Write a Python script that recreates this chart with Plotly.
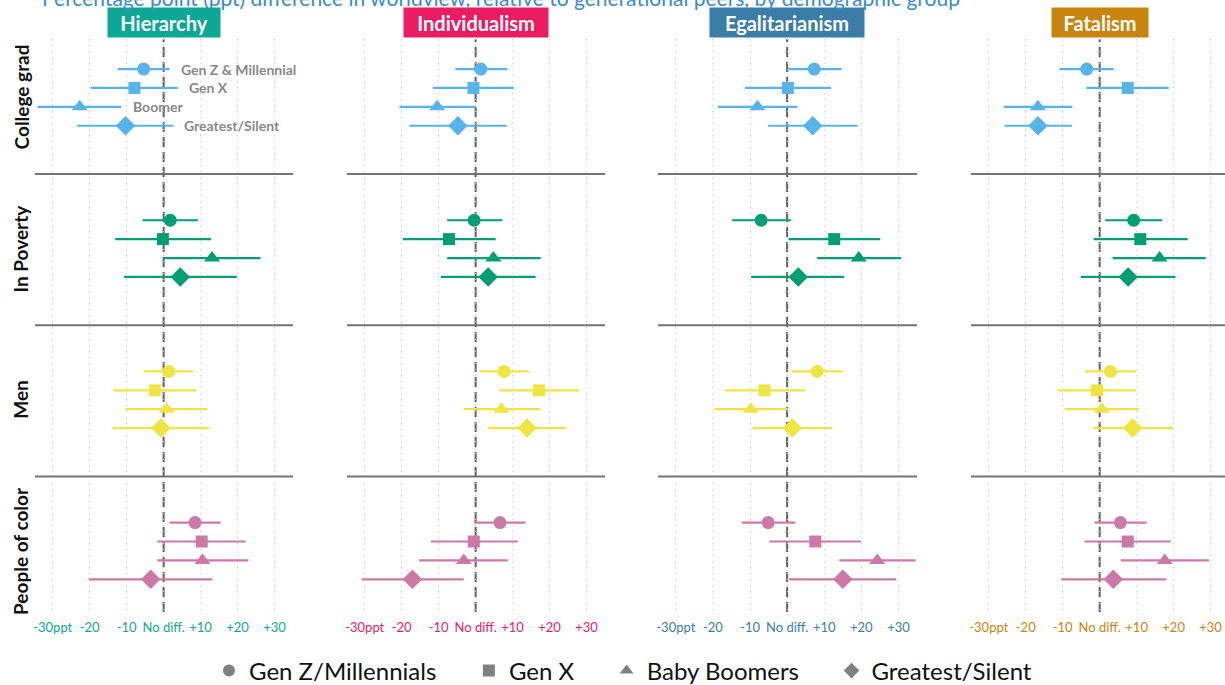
import plotly.graph_objects as go

cultures = ["Hierarchy", "Individualism", "Egalitarianism", "Fatalism"]
culture_colors = ["#0DA795", "#EC1C63", "#3A7DA6", "#C8850E"]
groups = ["College grad", "In Poverty", "Men", "People of color"]
group_colors = ["#56B4E9", "#009E73", "#F0E442", "#CC79A7"]
generations = ["Gen Z/Millennials", "Gen X", "Baby Boomers", "Greatest/Silent"]
gen_labels = ["Gen Z & Millennial", "Gen X", "Boomer", "Greatest/Silent"]
gen_label_x = [4.1, 6.2, -8.9, 4.9]
gen_symbols = ["circle", "square", "triangle-up", "diamond"]
gen_sizes = [13, 12, 14, 15]
tick_vals = [-30, -20, -10, 0, 10, 20, 30]
tick_text = ["-30ppt", "-20", "-10", "No diff.", "+10", "+20", "+30"]

# rows = demographic groups, columns = generations
hierarchy_est = [[-5.4, -7.9, -22.7, -10.3], [1.8, -0.2, 13.1, 4.5], [1.4, -2.4, 0.8, -0.7], [8.5, 10.3, 10.5, -3.5]]
hierarchy_lo = [[-12.4, -19.7, -34.1, -23.4], [-5.7, -13.1, 0.0, -10.7], [-5.4, -13.5, -10.2, -13.8], [1.6, -1.7, -1.7, -20.3]]
hierarchy_hi = [[1.6, 3.8, -11.5, 2.7], [9.3, 12.8, 26.2, 19.8], [8.0, 8.9, 11.8, 12.3], [15.4, 22.2, 22.9, 13.2]]

individualism_est = [[1.4, -0.6, -10.4, -4.8], [-0.4, -7.2, 4.8, 3.4], [7.7, 17.1, 7.0, 13.9], [6.6, -0.5, -3.2, -17.1]]
individualism_lo = [[-5.5, -11.6, -20.6, -17.9], [-7.7, -19.7, -7.7, -9.4], [1.0, 6.4, -3.2, 3.4], [-0.4, -12.1, -15.3, -30.8]]
individualism_hi = [[8.6, 10.3, 0.0, 8.4], [7.2, 5.4, 17.6, 16.2], [14.4, 28.0, 17.5, 24.4], [13.5, 11.4, 8.7, -3.2]]

egalitarianism_est = [[7.3, 0.2, -8.0, 6.9], [-7.0, 12.7, 19.3, 3.0], [8.1, -6.1, -9.8, 1.4], [-5.1, 7.6, 24.3, 15.0]]
egalitarianism_lo = [[0.2, -11.4, -18.6, -5.1], [-14.8, 0.4, 8.1, -9.7], [1.3, -16.8, -19.6, -9.3], [-12.2, -4.8, 14.1, 0.5]]
egalitarianism_hi = [[14.7, 11.8, 2.8, 19.0], [1.0, 25.1, 30.7, 15.4], [15.1, 5.0, 0.2, 12.2], [2.2, 19.9, 34.6, 29.4]]

fatalism_est = [[-3.5, 7.6, -16.7, -16.7], [9.2, 11.0, 16.2, 7.7], [2.9, -0.7, 0.6, 8.9], [5.6, 7.6, 17.6, 3.7]]
fatalism_lo = [[-10.9, -3.6, -25.9, -25.7], [1.5, -1.6, 3.5, -5.1], [-4.0, -11.4, -9.5, -1.8], [-1.4, -4.1, 5.7, -10.4]]
fatalism_hi = [[3.8, 18.7, -7.4, -7.5], [16.9, 23.8, 28.7, 20.5], [9.8, 9.9, 10.6, 19.8], [12.7, 19.2, 29.6, 18.0]]

estimates = [hierarchy_est, individualism_est, egalitarianism_est, fatalism_est]
lows = [hierarchy_lo, individualism_lo, egalitarianism_lo, fatalism_lo]
highs = [hierarchy_hi, individualism_hi, egalitarianism_hi, fatalism_hi]

title_text = "Percentage point (ppt) difference in worldview, relative to generational peers, by demographic group"

W, H = 1225, 685
FONT = "Lato"
ROW_STEP = 8  # category units per facet row


def ypos(r, k):
    return ROW_STEP * r + k


# pixel layout of the four facet columns
col_px = [(35, 293), (347, 605), (658, 917), (971, 1225)]
x_ranges = [[-34.8, 35.0], [-34.8, 35.0], [-34.8, 35.0], [-34.8, 33.9]]
y_top_px, y_bot_px = 39, 612
y_dom = [1 - y_bot_px / H, 1 - y_top_px / H]
y_range = [28.73, -1.59]

fig = go.Figure()
layout = dict(
    width=W, height=H,
    margin=dict(l=0, r=0, t=0, b=0, autoexpand=False),
    paper_bgcolor="white", plot_bgcolor="white",
    font=dict(family=FONT, color="#222"),
    showlegend=True,
)

shapes = []
annotations = []

for c in range(4):
    xa = "x" if c == 0 else f"x{c+1}"
    ya = "y" if c == 0 else f"y{c+1}"
    xkey = "xaxis" if c == 0 else f"xaxis{c+1}"
    ykey = "yaxis" if c == 0 else f"yaxis{c+1}"
    layout[xkey] = dict(
        domain=[col_px[c][0] / W, col_px[c][1] / W], anchor=ya,
        range=x_ranges[c], tickvals=tick_vals, ticktext=tick_text,
        showgrid=True, gridcolor="#c8c8c8", gridwidth=1, griddash="1px,5px",
        zeroline=False, showline=False, ticks="", ticklabelstandoff=6,
        tickfont=dict(family=FONT, size=13, color=culture_colors[c]),
        fixedrange=True,
    )
    layout[ykey] = dict(
        domain=y_dom, anchor=xa, range=y_range, visible=False,
        showgrid=False, zeroline=False, fixedrange=True,
    )
    for r in range(4):
        est = estimates[c][r]
        lo = lows[c][r]
        hi = highs[c][r]
        fig.add_trace(go.Scatter(
            x=est, y=[ypos(r, k) for k in range(4)],
            xaxis=xa, yaxis=ya, mode="markers", showlegend=False,
            marker=dict(symbol=gen_symbols, size=gen_sizes, color=group_colors[r],
                        opacity=1, line=dict(width=0)),
            error_x=dict(type="data", symmetric=False,
                         array=[h - e for h, e in zip(hi, est)],
                         arrayminus=[e - l for e, l in zip(est, lo)],
                         width=0, thickness=2.2, color=group_colors[r]),
            hoverinfo="skip",
        ))
    # dashed no-difference line
    shapes.append(dict(type="line", xref=xa, yref=f"{ya} domain", x0=0, x1=0, y0=0, y1=1,
                       line=dict(color="#5f5f5f", width=2, dash="10px,5px"), layer="below"))
    # row separators
    for r in range(1, 4):
        ysep = ypos(r, 0) - 2.44
        shapes.append(dict(type="line", xref=f"{xa} domain", yref=ya, x0=0, x1=1, y0=ysep, y1=ysep,
                           line=dict(color="#737373", width=2), layer="below"))
    # header box
    box_w = [108, 140, 150, 92][c]
    annotations.append(dict(
        text=cultures[c], xref=xa, yref="paper", x=0, y=1 - 23 / H,
        xanchor="center", yanchor="middle", showarrow=False,
        bgcolor=culture_colors[c], borderpad=2, width=box_w, height=25,
        font=dict(family=FONT, size=20, color="white", weight="bold"),
    ))

# row labels
for r in range(4):
    annotations.append(dict(
        text=groups[r], xref="paper", yref="y", x=21 / W, y=ypos(r, 1.5),
        textangle=-90, showarrow=False, xanchor="center", yanchor="middle",
        font=dict(family=FONT, size=19, color="#111111", weight="bold"),
    ))

# generation labels in the first facet
for k in range(4):
    annotations.append(dict(
        text=gen_labels[k], xref="x", yref="y", x=gen_label_x[k], y=ypos(0, k),
        xanchor="left", yanchor="middle", showarrow=False,
        font=dict(family=FONT, size=14, color="#888888", weight="bold"),
    ))

# title, cropped at the top edge as in the source image
annotations.append(dict(
    text=title_text, xref="paper", yref="paper", x=40 / W, y=1 - 12 / H,
    xanchor="left", yanchor="bottom", showarrow=False,
    font=dict(family=FONT, size=21, color="#3B8BC9"),
))

# legend entries (grey keys)
pad = "\u00a0" * 4 + "\u2009"
for k in range(4):
    fig.add_trace(go.Scatter(
        x=[None], y=[None], mode="markers", name=generations[k] + pad,
        marker=dict(symbol=gen_symbols[k], size=14, color="#808080"),
    ))

layout["shapes"] = shapes
layout["annotations"] = annotations
layout["legend"] = dict(
    orientation="h", x=209 / W, xanchor="left", y=1 - 671 / H, yanchor="middle",
    xref="container", yref="container",
    font=dict(family=FONT, size=24, color="#111111"), itemsizing="constant",
    bgcolor="rgba(0,0,0,0)",
)
fig.update_layout(**layout)
fig.write_html("out.html", config={"displayModeBar": False},
               post_script="document.body.style.margin='0';document.body.style.overflow='hidden';")
